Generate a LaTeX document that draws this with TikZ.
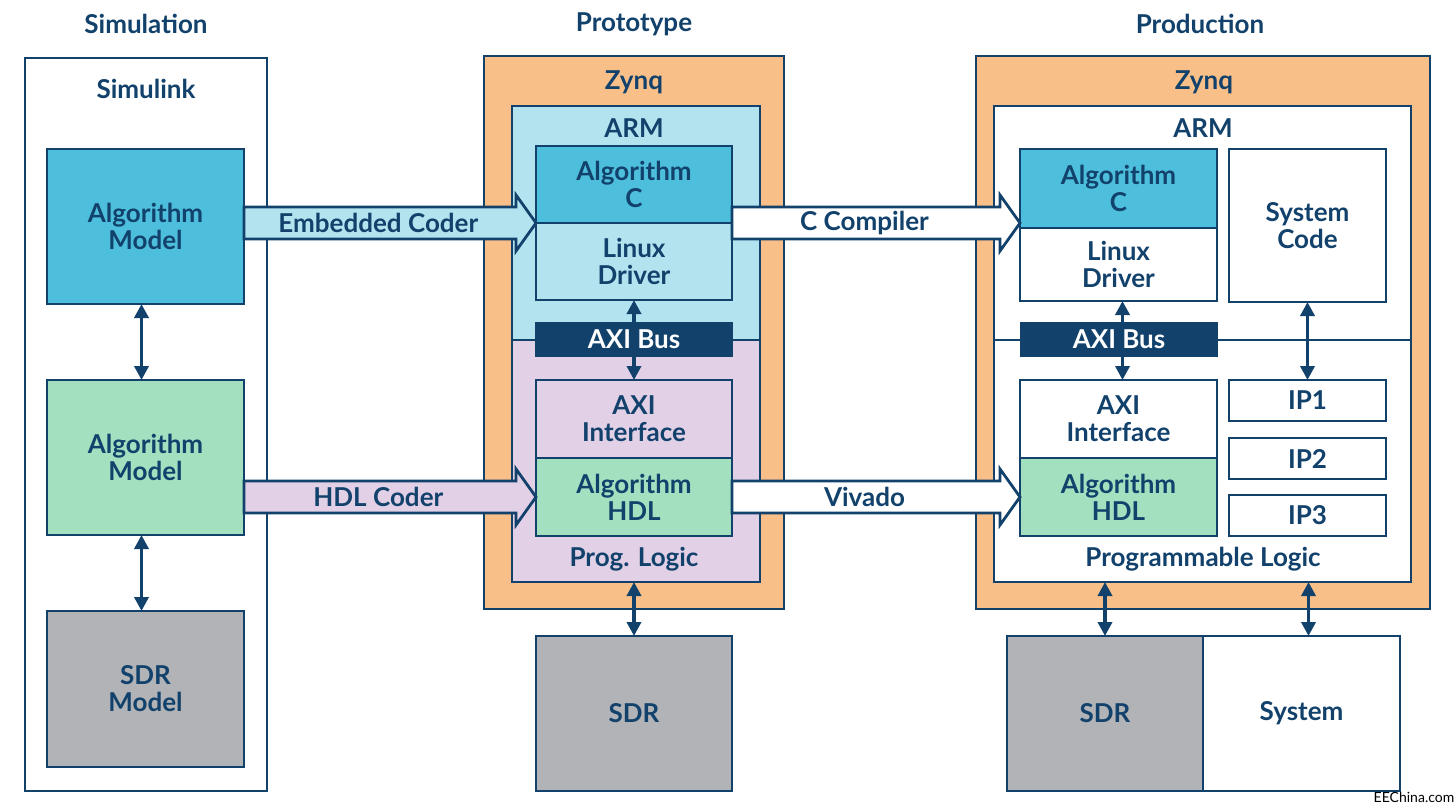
\documentclass[tikz,border=0pt]{standalone}
\usepackage{fontspec}
\setmainfont{Lato}
\usetikzlibrary{calc,arrows.meta}
\definecolor{dk}{HTML}{12426C}
\definecolor{cblue}{HTML}{4DBFDD}
\definecolor{clblue}{HTML}{B3E3EF}
\definecolor{clav}{HTML}{E2D0E6}
\definecolor{cgreen}{HTML}{A2E0C0}
\definecolor{cgray}{HTML}{B1B3B6}
\definecolor{corange}{HTML}{F8C088}
% box from (x1,y1) to (x2,y2) in pixel units
\newcommand\bx[7]{\node[#1, minimum width={(#5-#3)*0.5pt}, minimum height={(#6-#4)*0.5pt}] (#2) at ({(#3+#5)/2},{(#4+#6)/2}) {#7};}
\newcommand\fatarr[4]{%
  \draw[fatstyle, fill=#3] let \p1=(#1), \p2=(#2) in
    ({\x1},{\y2+8pt}) -- ({\x2-10pt},{\y2+8pt}) -- ({\x2-10pt},{\y2+14pt}) -- (\p2)
    -- ({\x2-10pt},{\y2-14pt}) -- ({\x2-10pt},{\y2-8pt}) -- ({\x1},{\y2-8pt}) -- cycle;
  \node[lbl] at ($(#1)!0.46!(#2)$) {#4};}
\begin{document}
\begin{tikzpicture}[x=0.5pt,y=-0.5pt,
  lbl/.style={font=\fontsize{13}{13.5}\selectfont\bfseries, text=dk, align=center, inner sep=0pt},
  box/.style={draw=dk, line width=1.4pt, inner sep=0pt, outer sep=0pt, align=center, font=\fontsize{13}{13.5}\selectfont\bfseries, text=dk},
  busbox/.style={box, fill=dk, text=white},
  fatstyle/.style={draw=dk, line width=1.4pt, line join=miter},
  dbl/.style={draw=dk, line width=1.8pt, {Triangle[length=7pt,width=7pt]}-{Triangle[length=7pt,width=7pt]}}]
\useasboundingbox (0,0) rectangle (1456,808);
\fill[white] (0,0) rectangle (1456,808);

% titles
\node[lbl] (t1) at (146,24) {Simulation};
\node[lbl] (t2) at (634,24) {Prototype};
\node[lbl] (t3) at (1200,24) {Production};

% Simulation column
\bx{box, fill=white}{sim}{25}{58}{267}{791}{}
\node[lbl] (simlbl) at (146,89) {Simulink};
\bx{box, fill=cblue}{am1}{47}{149}{244}{304}{Algorithm\\Model}
\bx{box, fill=cgreen}{am2}{47}{380}{244}{535}{Algorithm\\Model}
\bx{box, fill=cgray}{sdrm}{47}{611}{244}{767}{SDR\\Model}

% Prototype column
\bx{box, fill=corange}{pz}{484}{56}{784}{609}{}
\bx{box, fill=clblue}{ptop}{512}{106}{760}{340}{}
\bx{box, fill=clav}{pbot}{512}{340}{760}{582}{}
\node[lbl] (pzl) at (634,82) {Zynq};
\node[lbl] (parm) at (634,128) {ARM};
\node[lbl] (ppl) at (634,559) {Prog. Logic};
\bx{box, fill=cblue}{palgc}{536}{146}{732}{223}{Algorithm\\C}
\bx{box, fill=clblue}{plin}{536}{223}{732}{300}{Linux\\Driver}
\bx{box, fill=clav}{paxif}{536}{380}{732}{458}{AXI\\Interface}
\bx{box, fill=cgreen}{phdl}{536}{458}{732}{536}{Algorithm\\HDL}
\bx{box, fill=cgray}{psdr}{536}{636}{732}{791}{SDR}
\draw[dbl] (plin.south) -- (paxif.north);
\bx{busbox}{paxi}{536}{323}{732}{356}{AXI Bus}

% Production column
\bx{box, fill=corange}{rz}{976}{56}{1430}{609}{}
\bx{box, fill=white}{rtop}{994}{106}{1411}{340}{}
\bx{box, fill=white}{rbot}{994}{340}{1411}{582}{}
\node[lbl] (rzl) at (1204,82) {Zynq};
\node[lbl] (rarm) at (1203,128) {ARM};
\node[lbl] (rpl) at (1203,559) {Programmable Logic};
\bx{box, fill=cblue}{ralgc}{1020}{149}{1217}{228}{Algorithm\\C}
\bx{box, fill=white}{rlin}{1020}{228}{1217}{301}{Linux\\Driver}
\bx{box, fill=white}{rsys}{1229}{149}{1386}{302}{System\\Code}
\bx{box, fill=white}{raxif}{1020}{380}{1217}{458}{AXI\\Interface}
\bx{box, fill=cgreen}{rhdl}{1020}{458}{1217}{536}{Algorithm\\HDL}
\bx{box, fill=white}{ip1}{1229}{380}{1386}{421}{IP1}
\bx{box, fill=white}{ip2}{1229}{438}{1386}{479}{IP2}
\bx{box, fill=white}{ip3}{1229}{495}{1386}{536}{IP3}
\bx{box, fill=cgray}{rsdr}{1007}{636}{1203}{791}{SDR}
\bx{box, fill=white}{rsystem}{1203}{636}{1400}{791}{System}
\draw[dbl] ([xshift=2pt]rlin.south) -- ([xshift=2pt]raxif.north);
\bx{busbox}{raxi}{1021}{323}{1217}{356}{AXI Bus}

% double arrows
\draw[dbl] ([xshift=-2pt]am1.south) -- ([xshift=-2pt]am2.north);
\draw[dbl] ([xshift=-2pt]am2.south) -- ([xshift=-2pt]sdrm.north);
\draw[dbl] (pbot.south -| psdr.north) -- (psdr.north);
\draw[dbl] (rsys.south) -- (rsys.south |- ip1.north);
\draw[dbl] (rsdr.north |- rbot.south) -- (rsdr.north);
\coordinate (sysin) at ([xshift=3.5pt]rsystem.north);
\draw[dbl] (sysin |- rbot.south) -- (sysin);

% fat arrows
\coordinate (e1s) at (am1.east |- palgc.south west);
\coordinate (e1t) at (palgc.south west);
\coordinate (e2s) at (palgc.south east);
\coordinate (e2t) at (ralgc.west |- palgc.south east);
\coordinate (e3s) at (am2.east |- phdl.west);
\coordinate (e3t) at (phdl.west);
\coordinate (e4s) at (phdl.east);
\coordinate (e4t) at (rhdl.west);
\fatarr{e1s}{e1t}{clblue}{Embedded Coder}
\fatarr{e2s}{e2t}{white}{C Compiler}
\fatarr{e3s}{e3t}{clav}{HDL Coder}
\fatarr{e4s}{e4t}{white}{Vivado}

% watermark
\node[font=\fontsize{7}{8}\selectfont, text=black, inner sep=0pt] (wm) at (1414,797) {EEChina.com};
\end{tikzpicture}
\end{document}
